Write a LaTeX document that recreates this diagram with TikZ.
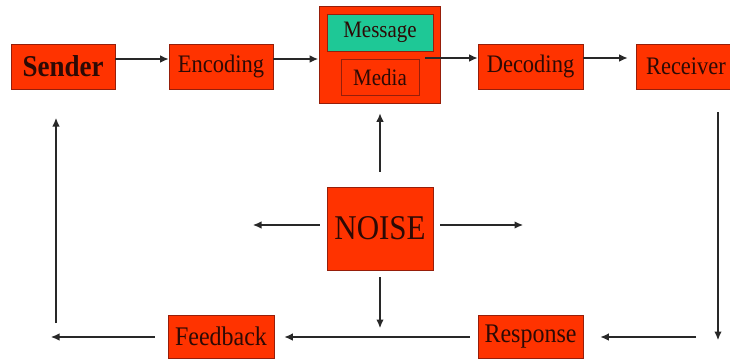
\documentclass[tikz,border=0pt]{standalone}
\usepackage{fontspec}
\usepackage{graphicx}
\setmainfont{Liberation Serif}
\usetikzlibrary{arrows.meta}
\definecolor{boxred}{RGB}{255,51,0}
\definecolor{boxedge}{RGB}{150,30,10}
\definecolor{msggreen}{RGB}{30,200,150}
\definecolor{txt}{RGB}{45,10,5}
\definecolor{arrowgray}{RGB}{40,40,40}
\newcommand{\tallt}[1]{\scalebox{1}[1.12]{#1}}
\begin{document}
\begin{tikzpicture}[x=1pt,y=-1pt,
  redbox/.style={draw=boxedge, line width=0.8pt, fill=boxred, text=txt, inner sep=0pt},
  stdbox/.style={redbox, minimum width=104pt, minimum height=45pt, font=\fontsize{22.5}{22.5}\selectfont},
  lowbox/.style={redbox, minimum width=106pt, minimum height=43pt, font=\fontsize{24}{24}\selectfont},
  arr/.style={draw=arrowgray, line width=1.1pt, -{Latex[length=8.5pt,width=7.5pt]}}]
\useasboundingbox (0,0) rectangle (730,360);
\fill[white] (0,0) rectangle (730,360);

% top row
\node[stdbox, font=\fontsize{27}{27}\selectfont\bfseries] (sender) at (63,66.5) {\tallt{Sender}};
\node[stdbox] (encoding) at (221,66.5) {\tallt{Encoding}};
\node[redbox, minimum width=121pt, minimum height=97pt] (outer) at (380,54.5) {};
\node[draw=boxedge, line width=0.8pt, fill=msggreen, text=txt, minimum width=106pt, minimum height=37pt, inner sep=0pt, font=\fontsize{21}{21}\selectfont] (message) at (380,32.5) {\tallt{Message}};
\node[draw=boxedge, line width=0.6pt, fill=boxred, text=txt, minimum width=78pt, minimum height=36pt, inner sep=0pt, font=\fontsize{21}{21}\selectfont] (media) at (380,77) {\tallt{Media}};
\node[stdbox, minimum width=105pt] (decoding) at (530.5,66.5) {\tallt{Decoding}};
\node[stdbox, text width=84pt, align=left] (receiver) at (688,66.5) {\tallt{Receiver}};

% noise
\node[redbox, minimum width=106pt, minimum height=83pt, font=\fontsize{31}{31}\selectfont] (noise) at (380,228.5) {\tallt{NOISE}};

% bottom row
\node[lowbox] (feedback) at (221,336.5) {\tallt{Feedback}};
\node[lowbox, minimum width=105pt] (response) at (530.5,336.5) {\tallt{Response}};

% free ends
\coordinate (rtop) at (718,112);
\coordinate (rbot) at (718,340);
\coordinate (rin) at (696,337);
\coordinate (lout) at (51,337);
\coordinate (lbot) at (56,323);
\coordinate (ltop) at (56,118);
\coordinate (nleft) at (253,225);
\coordinate (nright) at (523,225);
\coordinate (nbot) at (380,337);

% top arrows
\draw[arr] (sender.east |- 0,59) -- (encoding.west |- 0,59);
\draw[arr, shorten >=1pt] (encoding.east |- 0,59) -- (outer.west |- 0,59);
\draw[arr] ([xshift=-16pt]outer.east |- 0,58) -- (decoding.west |- 0,58);
\draw[arr, shorten >=8pt] (decoding.east |- 0,58) -- (receiver.west |- 0,58);

% right side loop
\draw[arr] (rtop) -- (rbot);
\draw[arr, shorten >=17pt] (rin) -- (response.east |- rin);
\draw[arr, shorten <=8pt, shorten >=10pt] (response.west |- rin) -- (feedback.east |- rin);
\draw[arr, shorten <=13pt] (feedback.west |- rin) -- (lout);
\draw[arr] (lbot) -- (ltop);

% noise arrows
\draw[arr, shorten <=15pt, shorten >=10pt] (noise.north) -- (outer.south);
\draw[arr, shorten <=7pt, shorten >=9pt] (noise.south) -- (nbot);
\draw[arr, shorten <=7pt] (noise.west |- nleft) -- (nleft);
\draw[arr, shorten <=7pt] (noise.east |- nright) -- (nright);
\end{tikzpicture}
\end{document}
